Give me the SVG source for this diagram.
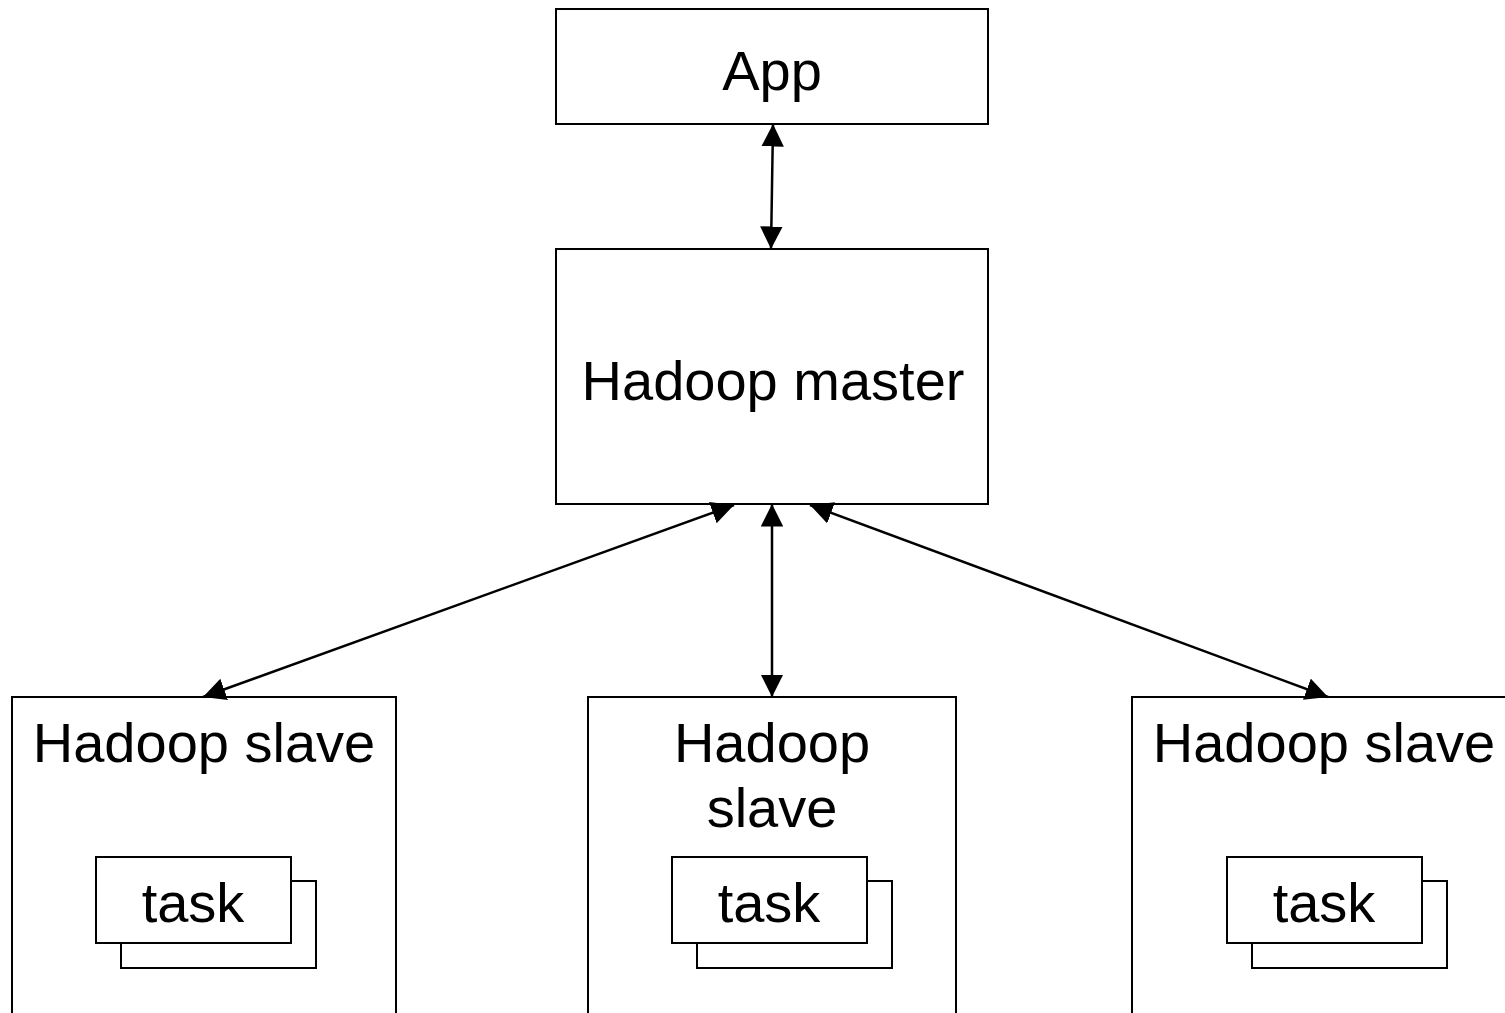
<svg xmlns="http://www.w3.org/2000/svg" width="1505" height="1013" viewBox="0 0 1505 1013">
<style>
.box{fill:#fff;stroke:#000;stroke-width:2}
.t{font-family:"Liberation Sans",Arial,sans-serif;font-size:56px;fill:#000;text-anchor:middle}
.c{stroke:#000;stroke-width:2.5;fill:none;marker-start:url(#ah);marker-end:url(#ah)}
</style>
<defs>
<marker id="ah" viewBox="0 0 10 10" refX="10" refY="5" markerWidth="9" markerHeight="9" orient="auto-start-reverse" markerUnits="strokeWidth">
<path d="M0,0 L10,5 L0,10 z" fill="#000"/>
</marker>
</defs>
<rect width="1505" height="1013" fill="#fff"/>
<g id="app">
<rect class="box" x="556" y="9" width="432" height="115"/>
<text class="t" x="772" y="90">App</text>
</g>
<g id="master">
<rect class="box" x="556" y="249" width="432" height="255"/>
<text class="t" x="773" y="400">Hadoop master</text>
</g>
<g id="slave1">
<rect class="box" x="12" y="697" width="384" height="330"/>
<text class="t" x="204" y="762">Hadoop slave</text>
<rect class="box" x="121" y="881" width="195" height="87"/>
<rect class="box" x="96" y="857" width="195" height="86"/>
<text class="t" x="193" y="922">task</text>
</g>
<g id="slave2">
<rect class="box" x="588" y="697" width="368" height="330"/>
<text class="t" x="772" y="762">Hadoop</text>
<text class="t" x="772" y="827">slave</text>
<rect class="box" x="697" y="881" width="195" height="87"/>
<rect class="box" x="672" y="857" width="195" height="86"/>
<text class="t" x="769" y="922">task</text>
</g>
<g id="slave3">
<rect class="box" x="1132" y="697" width="384" height="330"/>
<text class="t" x="1324" y="762">Hadoop slave</text>
<rect class="box" x="1252" y="881" width="195" height="87"/>
<rect class="box" x="1227" y="857" width="195" height="86"/>
<text class="t" x="1324" y="922">task</text>
</g>
<g id="connectors">
<line class="c" x1="773" y1="124" x2="771" y2="249"/>
<line class="c" x1="772" y1="504" x2="772" y2="697"/>
<line class="c" x1="734" y1="505" x2="203" y2="697"/>
<line class="c" x1="810" y1="505" x2="1328" y2="697"/>
</g>
</svg>
